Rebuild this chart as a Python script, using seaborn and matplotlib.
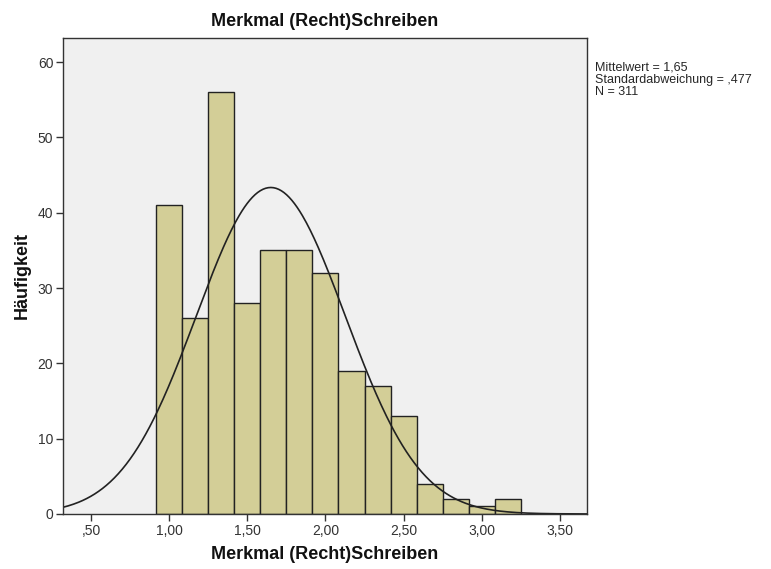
import numpy as np
import pandas as pd
import seaborn as sns
import matplotlib.pyplot as plt

# histogram counts (bin width 1/6)
bin_start = 11 / 12
bin_width = 1 / 6
counts = [41, 26, 56, 28, 35, 35, 32, 19, 17, 13, 4, 2, 1, 2]

mean_val = 1.65
sd_val = 0.477
n_total = 311

x_ticks = [0.5, 1.0, 1.5, 2.0, 2.5, 3.0, 3.5]
x_tick_labels = [",50", "1,00", "1,50", "2,00", "2,50", "3,00", "3,50"]
y_ticks = [0, 10, 20, 30, 40, 50, 60]

edges = bin_start + bin_width * np.arange(len(counts) + 1)
centers = (edges[:-1] + edges[1:]) / 2
df = pd.DataFrame({"wert": centers, "n": counts})

sns.set_style("white")
plt.rcParams["font.family"] = ["Liberation Sans", "DejaVu Sans"]

fig = plt.figure(figsize=(7.71, 5.69), dpi=100)
ax = fig.add_axes([0.0817, 0.0967, 0.6796, 0.8365])
ax.set_facecolor("#f0f0f0")

sns.histplot(data=df, x="wert", weights="n", bins=list(edges), ax=ax,
             color="#d3ce97", alpha=1, edgecolor="#222222", linewidth=1)

# normal curve scaled to counts
xs = np.linspace(0.32, 3.68, 400)
ys = n_total * bin_width * np.exp(-0.5 * ((xs - mean_val) / sd_val) ** 2) / (sd_val * np.sqrt(2 * np.pi))
sns.lineplot(x=xs, y=ys, ax=ax, color="#222222", linewidth=1.2)

ax.set_xlim(0.32, 3.674)
ax.set_ylim(0, 63.2)
ax.set_xticks(x_ticks)
ax.set_xticklabels(x_tick_labels)
ax.set_yticks(y_ticks)
ax.tick_params(axis="both", direction="out", length=5, width=1, color="#333333",
               labelsize=10, labelcolor="#333333", bottom=True, left=True, pad=2)

for s in ax.spines.values():
    s.set_color("#333333")
    s.set_linewidth(1)

ax.set_title("Merkmal (Recht)Schreiben", fontsize=13, fontweight="bold", pad=9, color="#111111")
ax.set_xlabel("Merkmal (Recht)Schreiben", fontsize=13, fontweight="bold", labelpad=6, color="#111111")
ax.set_ylabel("Häufigkeit", fontsize=13, fontweight="bold", labelpad=5, color="#111111")

fig.text(595 / 771, 1 - 62 / 569,
         "Mittelwert = 1,65\nStandardabweichung = ,477\nN = 311",
         fontsize=9, va="top", ha="left", linespacing=1.0)

fig.savefig("out.png", dpi=100)
